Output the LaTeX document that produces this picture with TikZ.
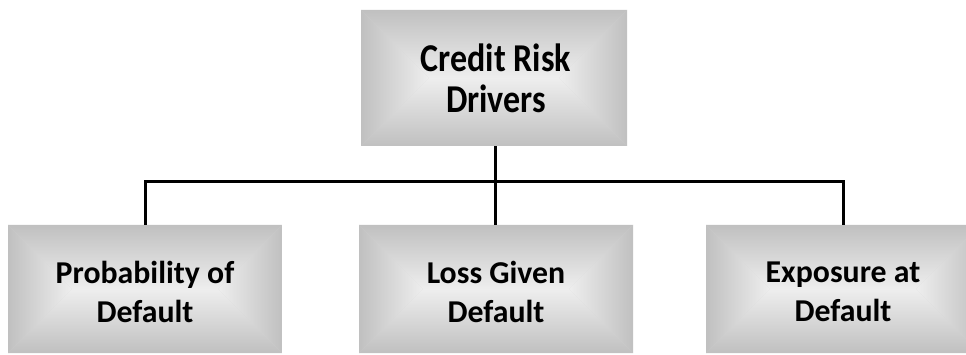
\documentclass[tikz,border=0pt]{standalone}
\usepackage{fontspec}
\setmainfont{Carlito}
\usetikzlibrary{calc}
\definecolor{bevedge}{RGB}{192,192,192}
\definecolor{bevmid}{RGB}{238,238,238}
\definecolor{bevbase}{RGB}{214,214,214}
\tikzset{
  boxtext/.style={align=center, inner sep=0pt, font=\fontsize{31.8}{39}\selectfont\bfseries},
  toptextstyle/.style={align=center, inner sep=0pt, font=\fontsize{34}{34.5}\selectfont\bfseries},
  bevelbox/.style={
    rectangle, inner sep=0pt,
    path picture={
      \fill[bevbase] (path picture bounding box.south west) rectangle (path picture bounding box.north east);
      \shade[top color=bevedge,bottom color=bevmid]
        let \p1=(path picture bounding box.south west),
            \p2=(path picture bounding box.north east),
            \n1={(\y2-\y1)/2} in
        (\x1,\y2) -- (\x2,\y2) -- (\x2-\n1*1pt,\y2-\n1*1pt) -- (\x1+\n1*1pt,\y2-\n1*1pt) -- cycle;
      \shade[top color=bevmid,bottom color=bevedge]
        let \p1=(path picture bounding box.south west),
            \p2=(path picture bounding box.north east),
            \n1={(\y2-\y1)/2} in
        (\x1,\y1) -- (\x2,\y1) -- (\x2-\n1*1pt,\y1+\n1*1pt) -- (\x1+\n1*1pt,\y1+\n1*1pt) -- cycle;
      \shade[left color=bevedge,right color=bevmid]
        let \p1=(path picture bounding box.south west),
            \p2=(path picture bounding box.north east),
            \n1={(\y2-\y1)/2} in
        (\x1,\y1) -- (\x1,\y2) -- (\x1+\n1*1pt,\y1+\n1*1pt) -- cycle;
      \shade[left color=bevmid,right color=bevedge]
        let \p1=(path picture bounding box.south west),
            \p2=(path picture bounding box.north east),
            \n1={(\y2-\y1)/2} in
        (\x2,\y1) -- (\x2,\y2) -- (\x2-\n1*1pt,\y1+\n1*1pt) -- cycle;
    }
  },
  topbox/.style={bevelbox, minimum width=266pt, minimum height=136pt},
  botbox/.style={bevelbox, minimum width=274pt, minimum height=128pt},
  conn/.style={draw=black, line width=3pt, line join=miter}
}
\begin{document}
\begin{tikzpicture}[x=1pt,y=-1pt]
  \useasboundingbox (0,0) rectangle (966,355);
  \clip (0,0) rectangle (966,355);
  \node[topbox] (top) at (494,78) {};
  \node[toptextstyle] (toptext) at (496,84) {\scalebox{1}[1.16]{\begin{tabular}{@{}c@{}}Credit Risk\\Drivers\end{tabular}}};
  \node[botbox] (pd) at (145,289) {};
  \node[botbox] (lgd) at (496,289) {};
  \node[botbox] (ead) at (843,289) {};
  \node[boxtext] (pdtext) at (145,292) {Probability of\\Default};
  \node[boxtext] (lgdtext) at (496,292) {Loss Given\\Default};
  \node[boxtext] (eadtext) at (843,292) {Exposure at\\Default};
  \coordinate (bus) at (495,182);
  \draw[conn] (top.south -| bus) -- (lgd.north -| bus);
  \draw[conn] (pd.north) -- (pd.north |- bus) -- (ead.north |- bus) -- (ead.north);
\end{tikzpicture}
\end{document}
